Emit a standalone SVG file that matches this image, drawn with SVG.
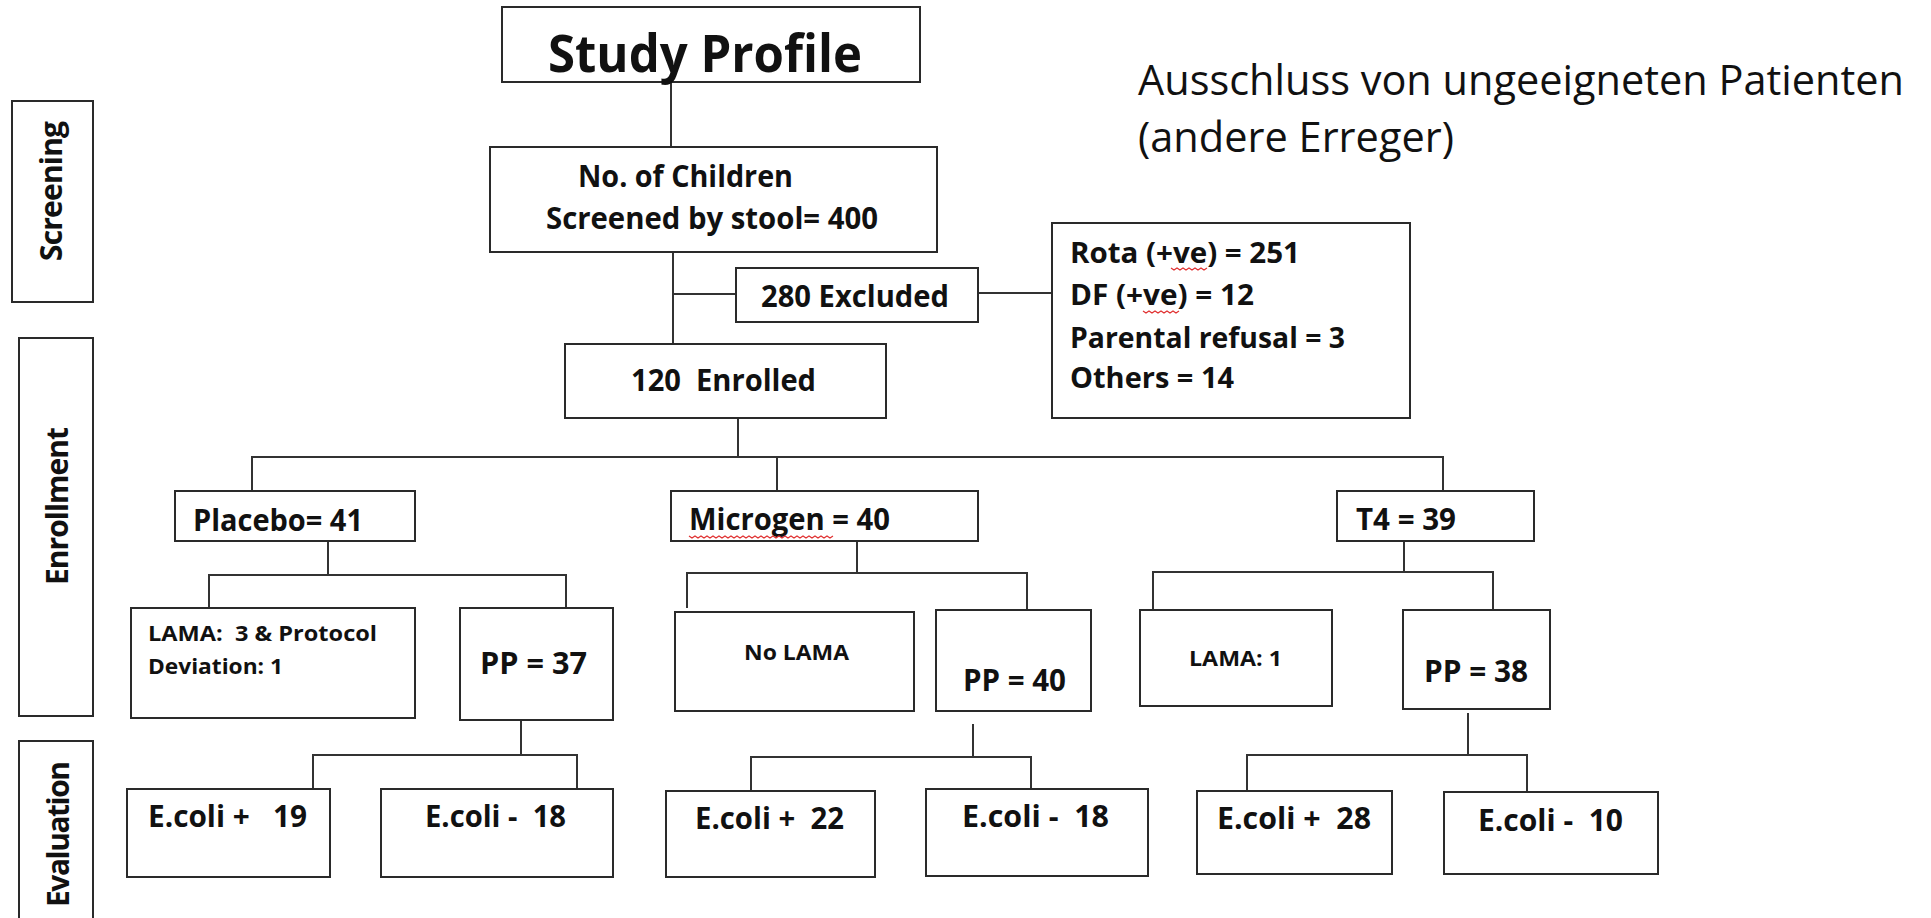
<svg xmlns="http://www.w3.org/2000/svg" width="1931" height="918" viewBox="0 0 1931 918">
<style>
.box{fill:#fff;stroke:#2a2a2a;stroke-width:2}
.t{font-family:"Open Sans","Liberation Sans",sans-serif;font-weight:700;fill:#111}
.reg{font-weight:400}
.conn path{fill:none;stroke:#333;stroke-width:2}
.sq{fill:none;stroke:#e03030;stroke-width:1.2}
</style>
<rect width="1931" height="918" fill="#fff"/>
<g id="connectors" class="conn">
<path d="M671 82V147"/>
<path d="M673 252V343"/>
<path d="M673 294H736"/>
<path d="M978 293H1052"/>
<path d="M738 418V457"/>
<path d="M252 491V457H1443V491"/>
<path d="M777 457V491"/>
<path d="M328 541V575"/>
<path d="M209 608V575H566V608"/>
<path d="M857 541V573"/>
<path d="M687 608V573H1027V610"/>
<path d="M1404 541V572"/>
<path d="M1153 610V572H1493V610"/>
<path d="M521 720V755"/>
<path d="M313 789V755H577V789"/>
<path d="M973 724V757"/>
<path d="M751 791V757H1031V789"/>
<path d="M1468 713V755"/>
<path d="M1247 791V755H1527V792"/>
</g>
<g id="side-screening"><rect class="box" x="12" y="101" width="81" height="201"/><text class="t" font-size="30" text-anchor="middle" transform="translate(62 191) rotate(-90)" textLength="140">Screening</text></g>
<g id="side-enrollment"><rect class="box" x="19" y="338" width="74" height="378"/><text class="t" font-size="30" text-anchor="middle" transform="translate(68 506) rotate(-90)" textLength="158">Enrollment</text></g>
<g id="side-evaluation"><rect class="box" x="19" y="741" width="74" height="200"/><text class="t" font-size="30" text-anchor="middle" transform="translate(69 834) rotate(-90)" textLength="146">Evaluation</text></g>
<g id="study-profile"><rect class="box" x="502" y="7" width="418" height="75"/><text class="t" x="548" y="72" font-size="52" textLength="314" lengthAdjust="spacingAndGlyphs">Study Profile</text></g>
<g id="children"><rect class="box" x="490" y="147" width="447" height="105"/><text class="t" x="578" y="187" font-size="30" textLength="215" lengthAdjust="spacingAndGlyphs">No. of Children</text><text class="t" x="546" y="229" font-size="30" textLength="332" lengthAdjust="spacingAndGlyphs">Screened by stool= 400</text></g>
<g id="excluded"><rect class="box" x="736" y="268" width="242" height="54"/><text class="t" x="761" y="307" font-size="30" textLength="188" lengthAdjust="spacingAndGlyphs">280 Excluded</text></g>
<g id="enrolled"><rect class="box" x="565" y="344" width="321" height="74"/><text class="t" x="631" y="391" font-size="30" xml:space="preserve" textLength="185" lengthAdjust="spacingAndGlyphs">120  Enrolled</text></g>
<g id="reasons"><rect class="box" x="1052" y="223" width="358" height="195"/>
<text class="t" x="1070" y="263" font-size="29" textLength="230" lengthAdjust="spacingAndGlyphs">Rota (+ve) = 251</text>
<text class="t" x="1070" y="305" font-size="29" textLength="184" lengthAdjust="spacingAndGlyphs">DF (+ve) = 12</text>
<text class="t" x="1070" y="348" font-size="29" textLength="275" lengthAdjust="spacingAndGlyphs">Parental refusal = 3</text>
<text class="t" x="1070" y="388" font-size="29" textLength="164" lengthAdjust="spacingAndGlyphs">Others = 14</text>
<path class="sq" d="M1171 268l3 2 3-2 3 2 3-2 3 2 3-2 3 2 3-2 3 2 3-2 3 2 3-2"/>
<path class="sq" d="M1143 311l3 2 3-2 3 2 3-2 3 2 3-2 3 2 3-2 3 2 3-2 3 2 3-2"/>
</g>
<g id="note"><text class="t reg" x="1138" y="95" font-size="42" textLength="766" lengthAdjust="spacingAndGlyphs">Ausschluss von ungeeigneten Patienten</text><text class="t reg" x="1138" y="152" font-size="42" textLength="316" lengthAdjust="spacingAndGlyphs">(andere Erreger)</text></g>
<g id="placebo"><rect class="box" x="175" y="491" width="240" height="50"/><text class="t" x="193" y="531" font-size="30" textLength="170" lengthAdjust="spacingAndGlyphs">Placebo= 41</text></g>
<g id="microgen"><rect class="box" x="671" y="491" width="307" height="50"/><text class="t" x="689" y="530" font-size="30" textLength="201" lengthAdjust="spacingAndGlyphs">Microgen = 40</text><path class="sq" d="M689 536l3 2 3-2 3 2 3-2 3 2 3-2 3 2 3-2 3 2 3-2 3 2 3-2 3 2 3-2 3 2 3-2 3 2 3-2 3 2 3-2 3 2 3-2 3 2 3-2 3 2 3-2 3 2 3-2 3 2 3-2 3 2 3-2 3 2 3-2 3 2 3-2 3 2 3-2 3 2 3-2 3 2 3-2 3 2 3-2 3 2 3-2 3 2 3-2"/></g>
<g id="t4"><rect class="box" x="1337" y="491" width="197" height="50"/><text class="t" x="1356" y="530" font-size="30" textLength="100" lengthAdjust="spacingAndGlyphs">T4 = 39</text></g>
<g id="lama3"><rect class="box" x="131" y="608" width="284" height="110"/><text class="t" x="148" y="641" font-size="22" xml:space="preserve" textLength="229" lengthAdjust="spacingAndGlyphs">LAMA:  3 &amp; Protocol</text><text class="t" x="148" y="674" font-size="22" textLength="135" lengthAdjust="spacingAndGlyphs">Deviation: 1</text></g>
<g id="pp37"><rect class="box" x="460" y="608" width="153" height="112"/><text class="t" x="480" y="674" font-size="31" textLength="107" lengthAdjust="spacingAndGlyphs">PP = 37</text></g>
<g id="nolama"><rect class="box" x="675" y="612" width="239" height="99"/><text class="t" x="744" y="660" font-size="21" textLength="105" lengthAdjust="spacingAndGlyphs">No LAMA</text></g>
<g id="pp40"><rect class="box" x="936" y="610" width="155" height="101"/><text class="t" x="963" y="691" font-size="31" textLength="103" lengthAdjust="spacingAndGlyphs">PP = 40</text></g>
<g id="lama1"><rect class="box" x="1140" y="610" width="192" height="96"/><text class="t" x="1189" y="666" font-size="21" textLength="93" lengthAdjust="spacingAndGlyphs">LAMA: 1</text></g>
<g id="pp38"><rect class="box" x="1403" y="610" width="147" height="99"/><text class="t" x="1424" y="682" font-size="31" textLength="104" lengthAdjust="spacingAndGlyphs">PP = 38</text></g>
<g id="e19"><rect class="box" x="127" y="789" width="203" height="88"/><text class="t" x="148" y="827" font-size="30" xml:space="preserve" textLength="159" lengthAdjust="spacingAndGlyphs">E.coli +   19</text></g>
<g id="e18a"><rect class="box" x="381" y="789" width="232" height="88"/><text class="t" x="425" y="827" font-size="30" xml:space="preserve" textLength="141" lengthAdjust="spacingAndGlyphs">E.coli -  18</text></g>
<g id="e22"><rect class="box" x="666" y="791" width="209" height="86"/><text class="t" x="695" y="829" font-size="30" xml:space="preserve" textLength="149" lengthAdjust="spacingAndGlyphs">E.coli +  22</text></g>
<g id="e18b"><rect class="box" x="926" y="789" width="222" height="87"/><text class="t" x="962" y="827" font-size="30" xml:space="preserve" textLength="147" lengthAdjust="spacingAndGlyphs">E.coli -  18</text></g>
<g id="e28"><rect class="box" x="1197" y="791" width="195" height="83"/><text class="t" x="1217" y="829" font-size="30" xml:space="preserve" textLength="154" lengthAdjust="spacingAndGlyphs">E.coli +  28</text></g>
<g id="e10"><rect class="box" x="1444" y="792" width="214" height="82"/><text class="t" x="1478" y="831" font-size="30" xml:space="preserve" textLength="145" lengthAdjust="spacingAndGlyphs">E.coli -  10</text></g>
</svg>
